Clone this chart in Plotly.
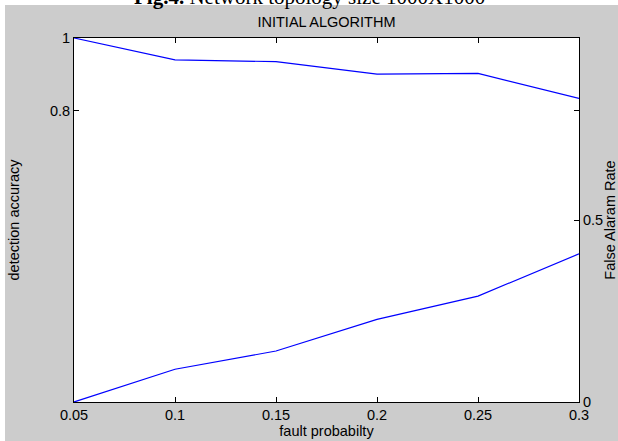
import plotly.graph_objects as go

fault_prob = [0.05, 0.1, 0.15, 0.2, 0.25, 0.3]
detection_accuracy = [1.0, 0.94, 0.935, 0.901, 0.903, 0.834]
false_alarm_rate = [0.0, 0.09, 0.14, 0.227, 0.291, 0.407]
x_ticks = [0.05, 0.1, 0.15, 0.2, 0.25, 0.3]
left_ticks = [0.8, 1]
right_ticks = [0, 0.5]

W, H = 618, 441
L, R, T, B = 74, 39, 38, 39
pw, ph = W - L - R, H - T - B

def px(xp):
    return (xp - L) / pw

def py(yp):
    return (H - B - yp) / ph

font = dict(family="Liberation Sans, Arial, sans-serif", size=14.5, color="#000000")

fig = go.Figure()
fig.add_trace(go.Scatter(x=fault_prob, y=detection_accuracy, mode="lines",
                         line=dict(color="#0000ff", width=1.2), yaxis="y", showlegend=False))
fig.add_trace(go.Scatter(x=fault_prob, y=false_alarm_rate, mode="lines",
                         line=dict(color="#0000ff", width=1.2), yaxis="y2", showlegend=False))

axcommon = dict(showline=True, linecolor="#000000", linewidth=1, ticks="inside",
                ticklen=5, tickcolor="#000000", showgrid=False, zeroline=False,
                tickfont=font)

fig.update_layout(
    width=W, height=H,
    margin=dict(l=L, r=R, t=T, b=B, autoexpand=False),
    paper_bgcolor="#cccccc", plot_bgcolor="#ffffff",
    font=font,
    xaxis=dict(range=[0.05, 0.3], tickvals=x_ticks, ticktext=[str(v) for v in x_ticks],
               mirror="ticks", title=dict(text="fault probabilty", font=font, standoff=1),
               **axcommon),
    yaxis=dict(range=[0, 1], tickvals=left_ticks, ticktext=["0.8", "1"], mirror="ticks",
               title=dict(text="detection accuracy", font=font, standoff=26), **axcommon),
    yaxis2=dict(range=[0, 1], tickvals=right_ticks, ticktext=["0", "0.5"], overlaying="y",
                side="right", title=dict(text="False Alaram Rate", font=font, standoff=6),
                **axcommon),
    title=dict(text="INITIAL ALGORITHM", font=font, xref="paper", x=0.5, xanchor="center",
               y=1 - 22 / H, yanchor="middle"),
    shapes=[
        dict(type="rect", xref="paper", yref="paper", x0=px(-5), x1=px(5), y0=py(H + 5),
             y1=py(-5), fillcolor="#ffffff", line=dict(width=0), layer="above"),
        dict(type="rect", xref="paper", yref="paper", x0=px(-5), x1=px(W + 5), y0=py(5),
             y1=py(-5), fillcolor="#ffffff", line=dict(width=0), layer="above"),
    ],
    annotations=[
        dict(xref="paper", yref="paper", x=px(309), y=py(-3), xanchor="center",
             yanchor="middle", showarrow=False,
             text="<b>Fig.4.</b> Network topology size 1000X1000",
             font=dict(family="Liberation Serif, Times New Roman, serif", size=21,
                       color="#000000")),
    ],
)

fig.write_html("out.html", config={"displayModeBar": False},
               post_script="document.body.style.margin='0';")
